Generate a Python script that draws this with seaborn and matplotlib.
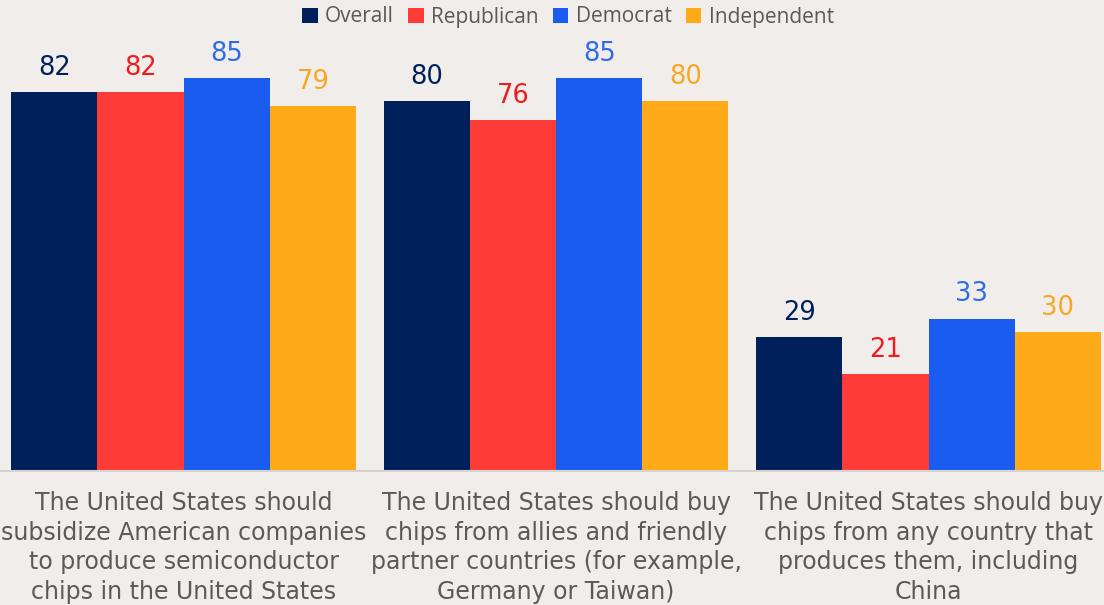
import matplotlib
matplotlib.use("Agg")
import matplotlib.pyplot as plt
import seaborn as sns
import pandas as pd
from matplotlib.patches import Patch

categories = [
    "The United States should\nsubsidize American companies\nto produce semiconductor\nchips in the United States",
    "The United States should buy\nchips from allies and friendly\npartner countries (for example,\nGermany or Taiwan)",
    "The United States should buy\nchips from any country that\nproduces them, including\nChina",
]
groups = ["Overall", "Republican", "Democrat", "Independent"]
overall = [82, 80, 29]
republican = [82, 76, 21]
democrat = [85, 85, 33]
independent = [79, 80, 30]

bar_colors = ["#00205B", "#FF3B37", "#1A5CF0", "#FFAB19"]
label_colors = ["#00205B", "#EE1C1C", "#2F6BE8", "#F7A823"]
bg = "#F0EDEA"

rows = []
for g, vals in zip(groups, [overall, republican, democrat, independent]):
    for c, v in zip(categories, vals):
        rows.append({"category": c, "group": g, "value": v})
df = pd.DataFrame(rows)

sns.set_style("white")
plt.rcParams["font.family"] = ["DejaVu Sans"]

fig = plt.figure(figsize=(11.04, 6.05), dpi=100, facecolor=bg)
ax = fig.add_axes([0.0, 1 - 471 / 605, 1.0, (471 - 40) / 605])
ax.set_facecolor(bg)

sns.barplot(data=df, x="category", y="value", hue="group", hue_order=groups,
            palette=bar_colors, width=0.926, gap=0, saturation=1,
            edgecolor="none", linewidth=0, ax=ax, legend=False)

ax.set_xlim(-0.4926, 2.471)
ax.set_ylim(0, (471 - 40) / 4.62)

for cont, col in zip(ax.containers, label_colors):
    ax.bar_label(cont, padding=8, color=col, fontsize=18.5)

for s in ["top", "right", "left"]:
    ax.spines[s].set_visible(False)
ax.spines["bottom"].set_color("#D6D3D0")
ax.spines["bottom"].set_linewidth(1.5)
ax.set_yticks([])
ax.set_xlabel("")
ax.set_ylabel("")
ax.tick_params(axis="x", length=0, pad=14.5, labelsize=17, labelcolor="#5A5A5A")
for t in ax.get_xticklabels():
    t.set_linespacing(1.29)

handles = [Patch(facecolor=c, edgecolor="none") for c in bar_colors]
leg = fig.legend(handles, groups, loc="center", bbox_to_anchor=(568 / 1104, 1 - 17 / 605),
                 ncol=4, frameon=False, handlelength=0.75, handleheight=0.75,
                 handletextpad=0.35, columnspacing=0.68,
                 prop={"family": ["Open Sans", "DejaVu Sans"], "size": 15})
for t in leg.get_texts():
    t.set_color("#595959")

fig.savefig("out.png", dpi=100, facecolor=bg)
